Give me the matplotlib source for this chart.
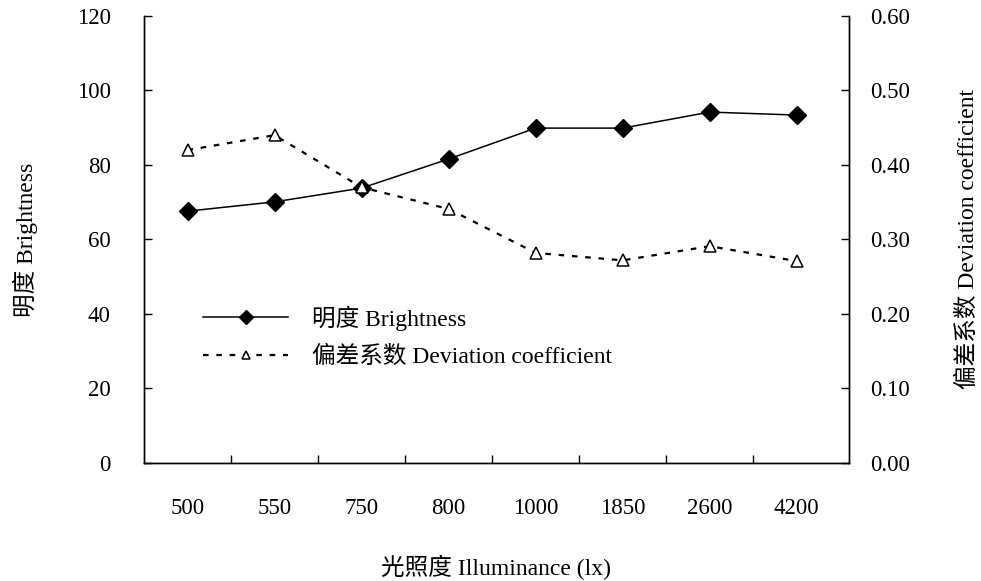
import matplotlib.pyplot as plt
from matplotlib.ticker import FixedLocator

plt.rcParams['font.family'] = ['Liberation Serif', 'Noto Sans CJK SC']
plt.rcParams['font.size'] = 17

categories = ['500', '550', '750', '800', '1000', '1850', '2600', '4200']
brightness = [67.6, 70.1, 73.8, 81.6, 89.9, 89.9, 94.2, 93.4]
deviation = [0.420, 0.440, 0.370, 0.341, 0.282, 0.272, 0.291, 0.271]

fig = plt.figure(figsize=(9.81, 5.81), dpi=100)
ax = fig.add_axes([0.1468, 0.2031, 0.7186, 0.7694])
ax2 = ax.twinx()

x = list(range(len(categories)))
l1, = ax.plot(x, brightness, color='black', lw=1.1, marker='D', ms=9,
              markerfacecolor='black', label='明度 Brightness')
l2, = ax2.plot(x, deviation, color='black', lw=1.6, ls=(0, (2.5, 3.5)),
               marker='^', ms=8, markerfacecolor='white', markeredgewidth=1.1,
               label='偏差系数 Deviation coefficient')

ax.set_xlim(-0.5, 7.6)
ax.set_ylim(0, 120)
ax2.set_ylim(0, 0.6)
ax.set_yticks([0, 20, 40, 60, 80, 100, 120])
ax2.set_yticks([0, 0.1, 0.2, 0.3, 0.4, 0.5, 0.6])
ax2.set_yticklabels(['%.2f' % v for v in ax2.get_yticks()])

ax.set_xticks(x)
ax.set_xticklabels(categories)
ax.tick_params(axis='x', which='major', length=0, pad=25, labelsize=16.5)
ax.xaxis.set_minor_locator(FixedLocator([i + 0.5 for i in range(7)]))
ax.tick_params(axis='x', which='minor', direction='in', length=6, width=1)
ax.tick_params(axis='y', direction='in', length=6, width=1, pad=24, labelsize=16.5)
ax2.tick_params(axis='y', direction='in', length=6, width=1, pad=15, labelsize=16.5)

for a in (ax, ax2):
    a.spines['top'].set_visible(False)
    for s in a.spines.values():
        s.set_linewidth(1)

ax.set_xlabel('光照度 Illuminance (lx)', labelpad=26)
ax.set_ylabel('明度 Brightness', labelpad=28)
ax2.set_ylabel('偏差系数 Deviation coefficient', labelpad=34)

leg = ax.legend(handles=[l1, l2], loc='upper left', bbox_to_anchor=(0.054, 0.40),
                frameon=False, handlelength=3.6, handletextpad=1.0,
                labelspacing=0.65, markerscale=0.8)

fig.savefig('out.png', dpi=100)
